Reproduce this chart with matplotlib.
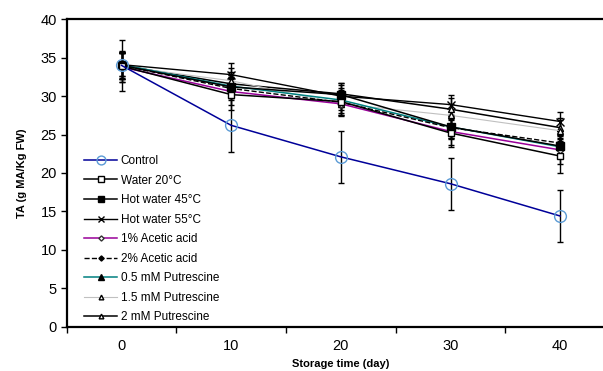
import matplotlib
matplotlib.use('Agg')
import matplotlib.pyplot as plt
from matplotlib.ticker import FixedLocator

plt.rcParams['font.family'] = ['Liberation Sans', 'DejaVu Sans']

# storage days (categorical x axis)
days = ['0', '10', '20', '30', '40']

# TA values (g MA/Kg FW)
control = [34.0, 26.2, 22.1, 18.6, 14.4]
water_20 = [33.9, 30.2, 29.3, 25.2, 22.2]
hot_45 = [34.0, 31.2, 30.2, 26.0, 23.5]
hot_55 = [34.1, 32.8, 30.0, 28.9, 26.7]
acetic_1 = [33.8, 30.6, 29.0, 25.4, 23.0]
acetic_2 = [34.0, 31.0, 29.2, 25.9, 23.9]
put_05 = [34.1, 31.3, 29.5, 26.0, 23.4]
put_15 = [33.9, 32.0, 29.0, 27.5, 25.5]
put_2 = [34.0, 31.6, 30.3, 28.3, 25.9]

# error bars
control_err = [3.3, 3.5, 3.4, 3.4, 3.4]
water_20_err = [2.0, 2.0, 1.8, 1.8, 2.2]
hot_45_err = [1.8, 1.5, 1.5, 1.5, 1.5]
hot_55_err = [1.5, 1.5, 1.4, 1.3, 1.2]
acetic_1_err = [2.0, 1.8, 1.6, 1.7, 1.8]
acetic_2_err = [1.6, 1.5, 1.4, 1.5, 1.6]
put_05_err = [1.5, 1.4, 1.3, 1.4, 1.5]
put_15_err = [1.7, 1.6, 1.5, 1.5, 1.4]
put_2_err = [1.8, 1.6, 1.4, 1.4, 1.3]

labels = ['Control', 'Water 20°C', 'Hot water 45°C', 'Hot water 55°C',
          '1% Acetic acid', '2% Acetic acid', '0.5 mM Putrescine',
          '1.5 mM Putrescine', '2 mM Putrescine']

series = [control, water_20, hot_45, hot_55, acetic_1, acetic_2,
          put_05, put_15, put_2]
errors = [control_err, water_20_err, hot_45_err, hot_55_err, acetic_1_err,
          acetic_2_err, put_05_err, put_15_err, put_2_err]

# style per series: (line colour, linestyle, lw, marker, ms, face, edge)
styles = [
    ('#000099', '-', 1.1, 'o', 8.5, 'none', '#5b9bd5'),
    ('black', '-', 1.1, 's', 5, 'white', 'black'),
    ('black', '-', 1.1, 's', 5.5, 'black', 'black'),
    ('black', '-', 1.0, 'x', 6, 'black', 'black'),
    ('#990099', '-', 1.1, 'D', 3.5, 'white', '#333333'),
    ('black', '--', 1.0, 'D', 3.5, 'black', 'black'),
    ('#008080', '-', 1.1, '^', 5, 'black', 'black'),
    ('#c0c0c0', '-', 0.8, '^', 4.5, 'white', 'black'),
    ('black', '-', 1.1, '^', 4.5, 'white', 'black'),
]

x = list(range(len(days)))

fig = plt.figure(figsize=(6.03, 3.71), dpi=100)
ax = fig.add_axes([0.1106, 0.1194, 1.02 - 0.1106, 0.948 - 0.1194])

# error bars first, lines on top
for vals, err in zip(series, errors):
    ax.errorbar(x, vals, yerr=err, fmt='none', ecolor='black', elinewidth=1.0,
                capsize=2.5, capthick=1.0, zorder=2)

handles = []
for vals, lab, st in zip(series[::-1], labels[::-1], styles[::-1]):
    color, ls, lw, mk, ms, face, edge = st
    h, = ax.plot(x, vals, color=color, linestyle=ls, linewidth=lw, marker=mk,
                 markersize=ms, markerfacecolor=face, markeredgecolor=edge,
                 markeredgewidth=1.0, label=lab, zorder=3)
    handles.append(h)
handles = handles[::-1]

ax.set_xlim(-0.5, 4.5)
ax.set_ylim(0, 40)
ax.set_yticks(range(0, 41, 5))
ax.set_xticks(x)
ax.set_xticklabels(days)
ax.xaxis.set_minor_locator(FixedLocator([i - 0.5 for i in range(len(days) + 1)]))
ax.tick_params(axis='x', which='major', length=0, pad=9, labelsize=10.5)
ax.tick_params(axis='x', which='minor', length=4, width=1.0, direction='out')
ax.tick_params(axis='y', length=4, width=1.0, direction='out', pad=3, labelsize=10.5)

for side in ['left', 'bottom', 'top', 'right']:
    ax.spines[side].set_linewidth(1.6)

ax.set_xlabel('Storage time (day)', fontsize=8, fontweight='bold', labelpad=4)
ax.set_ylabel('TA (g MA/Kg FW)', fontsize=8, fontweight='bold', labelpad=10)

ax.legend(handles=handles, loc='upper left', frameon=False, fontsize=8.5,
          bbox_to_anchor=(84 / 603, 1 - 155 / 371), bbox_transform=fig.transFigure,
          borderpad=0, borderaxespad=0, handlelength=2.8, handletextpad=0.3,
          labelspacing=0.64, markerscale=0.75)

fig.savefig('out.png', dpi=100)
